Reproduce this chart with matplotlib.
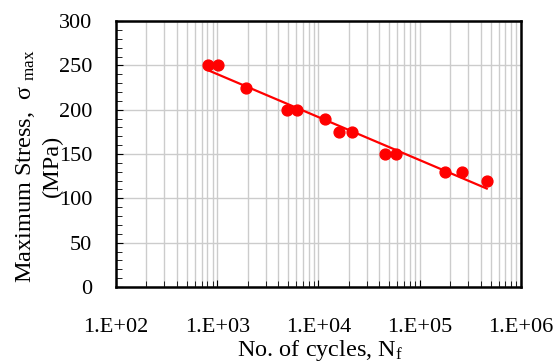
import matplotlib.pyplot as plt
import numpy as np
from matplotlib.ticker import LogLocator, MultipleLocator, FixedLocator

plt.rcParams['font.family'] = 'Liberation Serif'
plt.rcParams['mathtext.fontset'] = 'custom'
plt.rcParams['mathtext.rm'] = 'Liberation Serif'
plt.rcParams['mathtext.it'] = 'Liberation Serif'

# Datos
cycles = [803, 1024, 1905, 4910, 6080, 11480, 15900, 21400, 45800, 57900, 179500, 260000, 459000]
stress = [250, 250, 225, 200, 200, 190, 175, 175, 150, 150, 130, 130, 120]
x_ticks = [1e2, 1e3, 1e4, 1e5, 1e6]
x_tick_labels = ['1.E+02', '1.E+03', '1.E+04', '1.E+05', '1.E+06']
y_ticks = [0, 50, 100, 150, 200, 250, 300]

fig = plt.figure(figsize=(5.59, 3.63), dpi=100)
ax = fig.add_axes([0.2075, 0.2094, 0.7245, 0.7326])

# linea de tendencia (logaritmica)
logN = np.log10(cycles)
b, a = np.polyfit(logN, stress, 1)
xs = np.array([min(cycles), max(cycles)])
ax.plot(xs, a + b * np.log10(xs), color='red', lw=1.6, zorder=3)
ax.plot(cycles, stress, 'o', color='red', ms=7.8, zorder=4)

ax.set_xscale('log')
ax.set_xlim(1e2, 1e6)
ax.set_ylim(0, 300)
ax.xaxis.set_major_locator(FixedLocator(x_ticks))
ax.xaxis.set_minor_locator(LogLocator(base=10, subs=np.arange(2, 10), numticks=20))
ax.set_xticks(x_ticks)
ax.set_xticklabels(x_tick_labels)
ax.xaxis.set_minor_formatter(plt.NullFormatter())
ax.set_yticks(y_ticks)
ax.yaxis.set_minor_locator(MultipleLocator(10))

ax.grid(True, which='major', axis='both', color='#cccccc', lw=1.0)
ax.grid(True, which='minor', axis='x', color='#cccccc', lw=1.0)
ax.set_axisbelow(True)

ax.tick_params(axis='both', which='both', direction='in', labelsize=16, colors='black')
ax.tick_params(axis='x', which='major', length=5, pad=22)
ax.tick_params(axis='x', which='minor', length=4)
ax.tick_params(axis='y', which='major', length=5, pad=17)
ax.tick_params(axis='y', which='minor', length=4)
for s in ax.spines.values():
    s.set_linewidth(1.8)
    s.set_color('black')

fig.text(0.045, 0.543, r'Maximum Stress,  σ $_{\mathrm{max}}$', rotation=90,
         fontsize=17.5, ha='center', va='center')
fig.text(0.093, 0.543, '(MPa)', rotation=90, fontsize=17.5, ha='center', va='center')
fig.text(0.573, 0.035, r'No. of cycles, N$_{\mathrm{f}}$', fontsize=17.5,
         ha='center', va='center')

fig.savefig('out.png', dpi=100)
